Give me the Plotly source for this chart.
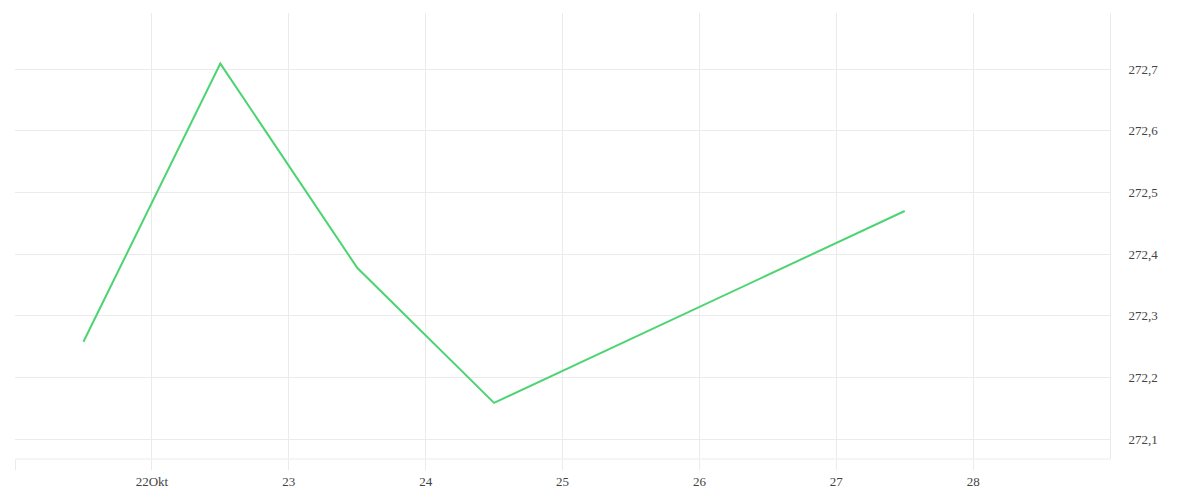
import pandas as pd
import plotly.graph_objects as go

# Price series (trading days, plotted at midday)
dates = ['2025-10-21 12:00', '2025-10-22 12:00', '2025-10-23 12:00',
         '2025-10-24 12:00', '2025-10-27 12:00']
prices = [272.258, 272.709, 272.378, 272.159, 272.470]

tick_dates = ['2025-10-21', '2025-10-22', '2025-10-23', '2025-10-24',
              '2025-10-25', '2025-10-26', '2025-10-27', '2025-10-28']
tick_labels = ['', '22Okt', '23', '24', '25', '26', '27', '28']

grid = '#ebebeb'
font_color = '#444444'

fig = go.Figure()

fig.add_trace(go.Scatter(
    x=pd.to_datetime(dates),
    y=prices,
    mode='lines',
    line=dict(color='#4cd472', width=2),
    showlegend=False
))

fig.update_layout(
    width=1200,
    height=500,
    margin=dict(l=7, r=98, t=5, b=49),
    paper_bgcolor='white',
    plot_bgcolor='white',
    separators=',.',
    font=dict(family='Liberation Serif, DejaVu Serif, serif', size=13, color=font_color),
    xaxis=dict(
        range=[pd.Timestamp('2025-10-21'), pd.Timestamp('2025-10-29')],
        tickvals=pd.to_datetime(tick_dates),
        ticktext=tick_labels,
        showgrid=True,
        gridcolor=grid,
        gridwidth=1,
        ticks='outside',
        ticklen=10,
        tickcolor=grid,
        zeroline=False,
        showline=False,
    ),
    yaxis=dict(
        side='right',
        range=[272.068, 272.791],
        tickvals=[272.1, 272.2, 272.3, 272.4, 272.5, 272.6, 272.7],
        tickformat='.1f',
        showgrid=True,
        gridcolor=grid,
        gridwidth=1,
        zeroline=False,
        showline=True,
        linecolor=grid,
        linewidth=1,
        ticks='outside',
        ticklen=15,
        tickcolor='rgba(0,0,0,0)',
    ),
)

fig.add_shape(type='line', xref='paper', yref='paper', x0=0, x1=1, y0=0, y1=0,
              line=dict(color=grid, width=1))

fig.write_html("out.html")
